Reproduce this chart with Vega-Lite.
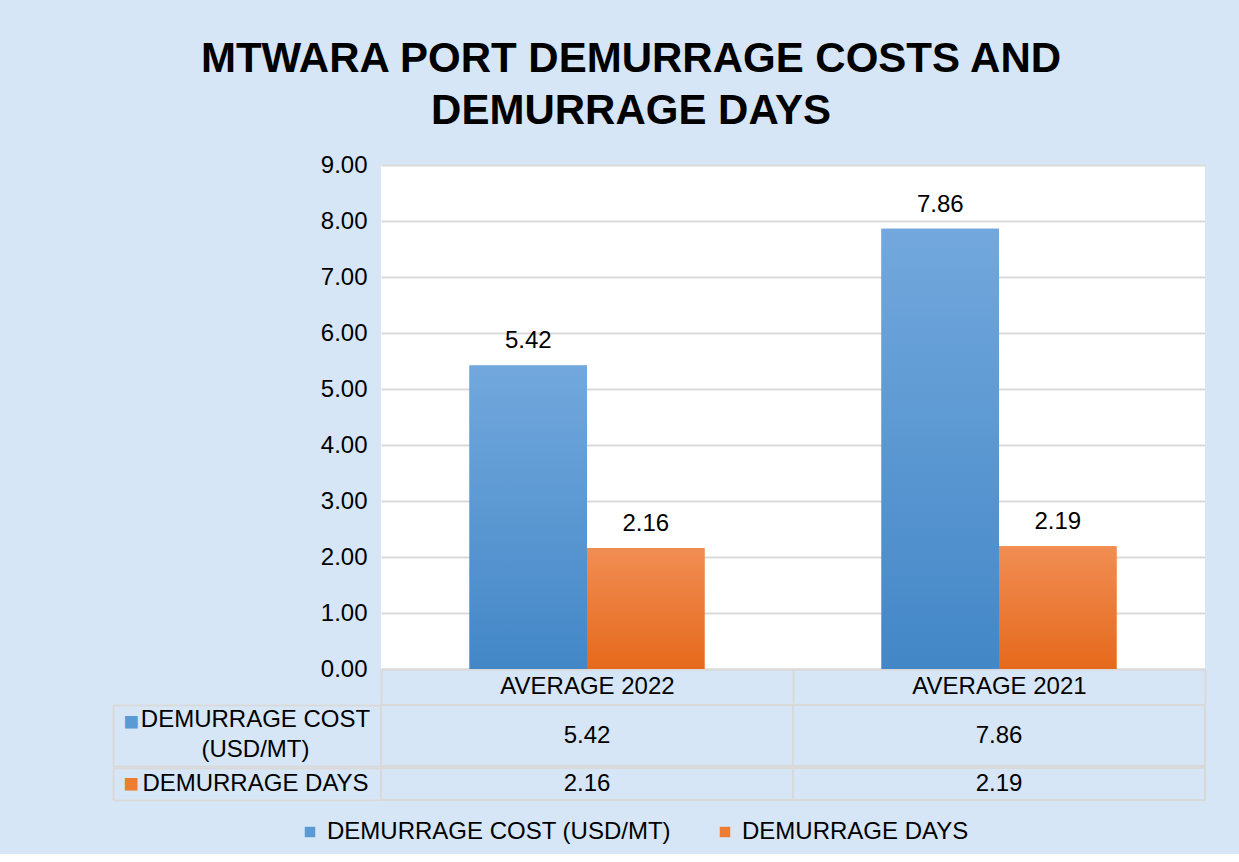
{
  "$schema": "https://vega.github.io/schema/vega-lite/v6.json",
  "background": "#d6e6f6",
  "padding": {"left": 112, "top": 38, "right": 34, "bottom": 10},
  "title": {"text": ["MTWARA PORT DEMURRAGE COSTS AND", "DEMURRAGE DAYS"], "fontSize": 42, "fontWeight": "bold", "color": "#000000", "lineHeight": 52, "anchor": "middle", "offset": 20, "dx": -28},
  "datasets": {
    "d": [
      {"period": "AVERAGE 2022", "series": "DEMURRAGE COST (USD/MT)", "value": 5.42},
      {"period": "AVERAGE 2022", "series": "DEMURRAGE DAYS", "value": 2.16},
      {"period": "AVERAGE 2021", "series": "DEMURRAGE COST (USD/MT)", "value": 7.86},
      {"period": "AVERAGE 2021", "series": "DEMURRAGE DAYS", "value": 2.19}
    ]
  },
  "spacing": 0,
  "vconcat": [
    {
      "width": 824,
      "height": 504,
      "view": {"fill": "white", "stroke": null},
      "data": {"name": "d"},
      "encoding": {
        "x": {"field": "period", "type": "nominal", "scale": {"domain": ["AVERAGE 2022", "AVERAGE 2021"], "paddingInner": 0, "paddingOuter": 0},
          "axis": {"title": null, "labelAngle": 0, "labelFontSize": 24, "labelColor": "#000000", "labelPadding": -17, "labelBaseline": "middle", "labelLimit": 400, "tickBand": "extent", "tickSize": 34, "tickColor": "#d9d9d9", "tickWidth": 2, "domainColor": "#d9d9d9", "domainWidth": 2, "grid": false}},
        "xOffset": {"field": "series", "type": "nominal", "scale": {"domain": ["DEMURRAGE COST (USD/MT)", "DEMURRAGE DAYS"], "paddingInner": 0, "paddingOuter": 0.753}},
        "y": {"field": "value", "type": "quantitative", "scale": {"domain": [0, 9], "nice": false},
          "axis": {"title": null, "values": [0, 1, 2, 3, 4, 5, 6, 7, 8, 9], "format": ".2f", "labelFontSize": 24, "labelColor": "#000000", "labelPadding": 14, "ticks": false, "domain": false, "gridColor": "#d9d9d9", "gridWidth": 2}}
      },
      "layer": [
        {
          "mark": {"type": "bar"},
          "encoding": {
            "color": {"field": "series", "type": "nominal", "scale": {"domain": ["DEMURRAGE COST (USD/MT)", "DEMURRAGE DAYS"], "range": ["#5b9bd5", "#ed7d31"]},
              "legend": {"title": null, "orient": "none", "legendX": -83, "legendY": 655, "direction": "horizontal", "symbolType": "square", "symbolSize": 110, "labelFontSize": 24, "labelColor": "#000000", "labelLimit": 500, "labelOffset": 5, "columnPadding": 42}}
          }
        },
        {
          "transform": [{"filter": "datum.series == 'DEMURRAGE COST (USD/MT)'"}],
          "mark": {"type": "bar", "fill": {"gradient": "linear", "x1": 0, "y1": 0, "x2": 0, "y2": 1, "stops": [{"offset": 0, "color": "#72a8dd"}, {"offset": 1, "color": "#4387c7"}]}}
        },
        {
          "transform": [{"filter": "datum.series == 'DEMURRAGE DAYS'"}],
          "mark": {"type": "bar", "fill": {"gradient": "linear", "x1": 0, "y1": 0, "x2": 0, "y2": 1, "stops": [{"offset": 0, "color": "#f18d53"}, {"offset": 1, "color": "#e5691c"}]}}
        },
        {
          "mark": {"type": "text", "fontSize": 24, "color": "#000000", "baseline": "alphabetic", "dy": -17},
          "encoding": {"text": {"field": "value", "type": "quantitative", "format": ".2f"}}
        }
      ]
    },
    {
      "width": 824,
      "height": 61,
      "view": {"fill": null, "stroke": null},
      "data": {"name": "d"},
      "transform": [{"filter": "datum.series == 'DEMURRAGE COST (USD/MT)'"}],
      "encoding": {
        "x": {"field": "period", "type": "nominal", "scale": {"domain": ["AVERAGE 2022", "AVERAGE 2021"], "paddingInner": 0, "paddingOuter": 0}, "axis": null}
      },
      "layer": [
        {
          "mark": {"type": "rect", "fill": "transparent", "stroke": "#d9d9d9", "strokeWidth": 2},
          "encoding": {
            "y": {"field": "series", "type": "nominal", "scale": {"type": "band", "paddingInner": 0, "paddingOuter": 0},
              "axis": {"orient": "left", "offset": 268, "title": null, "domain": true, "domainColor": "#d9d9d9", "domainWidth": 2, "ticks": true, "tickBand": "extent", "tickSize": -268, "tickColor": "#d9d9d9", "tickWidth": 2, "labels": false}}
          }
        },
        {
          "mark": {"type": "rect", "fill": "transparent", "stroke": null},
          "encoding": {
            "y": {"field": "series", "type": "nominal",
              "axis": {"orient": "left", "title": null, "domain": false, "ticks": false, "labelExpr": "'■'", "labelAlign": "left", "labelBaseline": "middle", "labelPadding": 258, "labelFontSize": 26, "labelColor": "#5b9bd5", "labelOffset": -14}}
          }
        },
        {
          "mark": {"type": "rect", "fill": "transparent", "stroke": null},
          "encoding": {
            "y": {"field": "series", "type": "nominal",
              "axis": {"orient": "left", "title": null, "domain": false, "ticks": false, "labelExpr": "'(USD/MT)'", "labelAlign": "center", "labelBaseline": "middle", "labelPadding": 126, "labelFontSize": 24, "labelColor": "#000000", "labelLimit": 400, "labelOffset": 14}}
          }
        },
        {
          "mark": {"type": "text", "fontSize": 24, "color": "#000000"},
          "encoding": {
            "y": {"field": "series", "type": "nominal",
              "axis": {"orient": "left", "title": null, "domain": false, "ticks": false, "labelExpr": "'DEMURRAGE COST'", "labelAlign": "center", "labelBaseline": "middle", "labelPadding": 126, "labelFontSize": 24, "labelColor": "#000000", "labelLimit": 400, "labelOffset": -16}},
            "text": {"field": "value", "type": "quantitative", "format": ".2f"}
          }
        }
      ],
      "resolve": {"axis": {"y": "independent"}}
    },
    {
      "width": 824,
      "height": 32,
      "view": {"fill": null, "stroke": null},
      "data": {"name": "d"},
      "transform": [{"filter": "datum.series == 'DEMURRAGE DAYS'"}],
      "encoding": {
        "x": {"field": "period", "type": "nominal", "scale": {"domain": ["AVERAGE 2022", "AVERAGE 2021"], "paddingInner": 0, "paddingOuter": 0}, "axis": null}
      },
      "layer": [
        {
          "mark": {"type": "rect", "fill": "transparent", "stroke": "#d9d9d9", "strokeWidth": 2},
          "encoding": {
            "y": {"field": "series", "type": "nominal", "scale": {"type": "band", "paddingInner": 0, "paddingOuter": 0},
              "axis": {"orient": "left", "offset": 268, "title": null, "domain": true, "domainColor": "#d9d9d9", "domainWidth": 2, "ticks": true, "tickBand": "extent", "tickSize": -268, "tickColor": "#d9d9d9", "tickWidth": 2, "labels": false}}
          }
        },
        {
          "mark": {"type": "rect", "fill": "transparent", "stroke": null},
          "encoding": {
            "y": {"field": "series", "type": "nominal",
              "axis": {"orient": "left", "title": null, "domain": false, "ticks": false, "labelExpr": "'■'", "labelAlign": "left", "labelBaseline": "middle", "labelPadding": 258, "labelFontSize": 26, "labelColor": "#ed7d31", "labelOffset": 0}}
          }
        },
        {
          "mark": {"type": "text", "fontSize": 24, "color": "#000000"},
          "encoding": {
            "y": {"field": "series", "type": "nominal",
              "axis": {"orient": "left", "title": null, "domain": false, "ticks": false, "labelAlign": "center", "labelBaseline": "middle", "labelPadding": 126, "labelFontSize": 24, "labelColor": "#000000", "labelLimit": 400}},
            "text": {"field": "value", "type": "quantitative", "format": ".2f"}
          }
        }
      ],
      "resolve": {"axis": {"y": "independent"}}
    }
  ],
  "config": {"font": "Liberation Sans", "view": {"stroke": null}}
}
